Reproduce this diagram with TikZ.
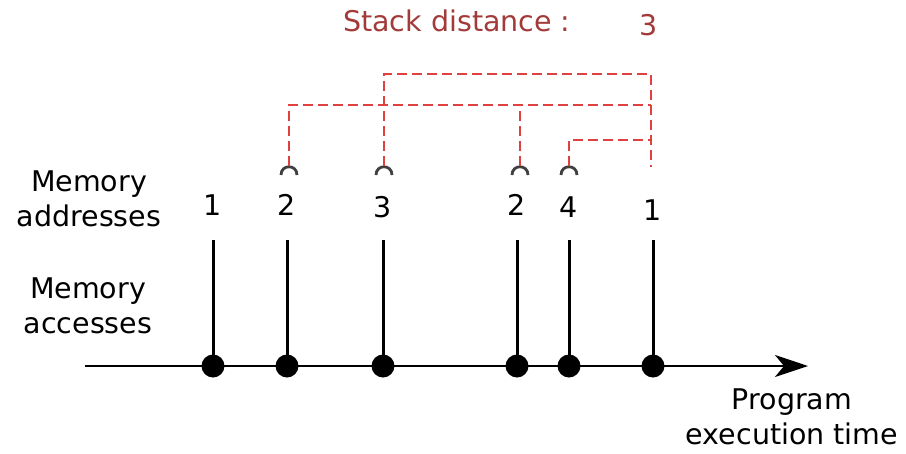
\documentclass[tikz,border=0pt]{standalone}
\usepackage{fontspec}
\setmainfont{DejaVu Sans}
\usetikzlibrary{arrows.meta}
\definecolor{distred}{HTML}{A33A3A}
\definecolor{dashred}{HTML}{E04040}
\definecolor{hookgray}{HTML}{404040}
\begin{document}
\begin{tikzpicture}[x=1pt,y=-1pt,
  every node/.style={font=\fontsize{28.5}{35}\selectfont, inner sep=0pt},
  access/.style={circle,fill=black,inner sep=0pt,minimum size=23pt},
  stem/.style={line width=3pt},
  timeline/.style={line width=2.6pt,-{Stealth[length=33pt,width=22pt,inset=9pt]}},
  reuse/.style={dashred,line width=2.6pt,dash pattern=on 10pt off 5pt},
  hook/.style={hookgray,line width=2.8pt}]
\useasboundingbox (0,0) rectangle (906,453);

% time axis
\coordinate (tstart) at (85,366);
\coordinate (tend) at (808,366);
\draw[timeline] (tstart) -- (tend);

% accesses: dot, stem top, address label
\foreach \n/\x/\a/\ly in {1/213/1/205, 2/287/2/205, 3/383/3/207, 4/517/2/205, 5/569/4/207, 6/653/1/210}{
  \coordinate (s\n) at (\x,240);
  \draw[stem] (s\n) -- (\x,366);
  \node[access] (d\n) at (\x,366) {};
  \node (n\n) at (\x,\ly) {\a};
}

% hooks above the addresses
\foreach \n/\x in {2/289, 3/384, 4/520, 5/569}{
  \coordinate (h\n) at (\x,166);
  \draw[hook] (\x-8,175) .. controls (\x-8,164) and (\x+8,164) .. (\x+8,175);
}

% reuse links
\coordinate (rtop) at (651,74);
\coordinate (rbot) at (651,167);
\coordinate (r2) at (651,105);
\coordinate (m4) at (520,105);
\coordinate (r5) at (651,140);
\draw[reuse] (h3) |- (rtop) -- (rbot);
\draw[reuse] (h2) |- (r2);
\draw[reuse] (h4) -- (m4);
\draw[reuse] (h5) |- (r5);

% labels
\node[text=distred, anchor=west] (sdlabel) at (343,21) {Stack distance :};
\node[text=distred] (sdval) at (649,25) {3};
\node[align=center] (addrlab) at (89,199) {Memory\\addresses};
\node[align=center] (acclab) at (88,306) {Memory\\accesses};
\node[align=center] (timelab) at (792,417) {Program\\execution time};
\end{tikzpicture}
\end{document}
